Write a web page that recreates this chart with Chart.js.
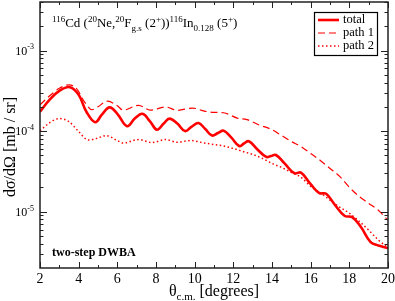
<!DOCTYPE html>
<html>
<head>
<meta charset="utf-8">
<script src="https://cdn.jsdelivr.net/npm/chart.js@4"></script>
<style>
  body { margin: 0; background: #fff; }
  #chart { display: block; }
</style>
</head>
<body>
<canvas id="chart" width="395" height="301"></canvas>
<script>
// angles (degrees) and cross sections (mb/sr)
const totalTheta = [2.0, 2.5, 3.0, 3.55, 4.0, 4.4, 4.85, 5.2, 5.6, 6.0, 6.5, 6.9, 7.3, 7.7, 8.05, 8.4, 8.7, 9.1, 9.5, 9.85, 10.2, 10.55, 10.9, 11.2, 11.5, 11.9, 12.3, 12.55, 12.8, 13.25, 13.7, 13.95, 14.2, 14.65, 15.15, 15.5, 16.0, 16.45, 16.8, 17.25, 17.75, 18.15, 18.6, 19.1, 19.5, 20.0];
const totalSigma = [1.74e-4, 2.45e-4, 3.16e-4, 3.51e-4, 2.82e-4, 1.74e-4, 1.29e-4, 1.60e-4, 1.97e-4, 1.64e-4, 1.15e-4, 1.43e-4, 1.64e-4, 1.31e-4, 1.04e-4, 1.24e-4, 1.43e-4, 1.24e-4, 1.0e-4, 1.14e-4, 1.26e-4, 1.06e-4, 8.8e-5, 9.45e-5, 1.01e-4, 8.31e-5, 6.53e-5, 7.01e-5, 7.48e-5, 5.91e-5, 4.78e-5, 4.91e-5, 5.05e-5, 3.97e-5, 3.0e-5, 3.05e-5, 2.19e-5, 1.70e-5, 1.67e-5, 1.22e-5, 8.9e-6, 8.55e-6, 6.44e-6, 4.2e-6, 3.8e-6, 3.54e-6];

const path1Theta = [2.0, 2.5, 3.0, 3.5, 3.9, 4.3, 4.7, 5.0, 5.5, 6.0, 6.3, 7.1, 7.7, 8.5, 9.1, 9.9, 10.5, 11.0, 11.5, 12.2, 12.7, 13.3, 14.0, 14.5, 15.0, 15.5, 16.0, 16.5, 17.0, 17.5, 18.0, 18.5, 19.0, 19.5, 20.0];
const path1Sigma = [2.12e-4, 2.74e-4, 3.40e-4, 3.75e-4, 3.35e-4, 2.31e-4, 1.84e-4, 2.01e-4, 2.35e-4, 2.06e-4, 1.82e-4, 2.09e-4, 1.82e-4, 1.99e-4, 1.81e-4, 1.93e-4, 1.77e-4, 1.71e-4, 1.69e-4, 1.45e-4, 1.39e-4, 1.20e-4, 1.04e-4, 8.8e-5, 7.42e-5, 6.44e-5, 5.28e-5, 4.32e-5, 3.44e-5, 2.74e-5, 2.01e-5, 1.55e-5, 1.27e-5, 1.04e-5, 7.85e-6];

const path2Theta = [2.0, 2.5, 3.0, 3.5, 4.0, 4.5, 5.0, 5.4, 6.0, 6.3, 7.1, 7.8, 8.5, 9.1, 9.8, 10.5, 11.0, 11.5, 12.0, 12.5, 13.0, 13.5, 14.0, 14.5, 15.0, 15.5, 16.0, 16.5, 17.0, 17.5, 18.0, 18.5, 19.0, 19.5, 20.0];
const path2Sigma = [1.01e-4, 1.27e-4, 1.43e-4, 1.31e-4, 9.86e-5, 7.74e-5, 8.2e-5, 8.8e-5, 7.63e-5, 7.11e-5, 7.85e-5, 7.21e-5, 7.85e-5, 7.27e-5, 7.63e-5, 7.11e-5, 6.81e-5, 6.53e-5, 6.08e-5, 5.58e-5, 5.13e-5, 4.58e-5, 3.97e-5, 3.54e-5, 3.07e-5, 2.67e-5, 2.06e-5, 1.72e-5, 1.39e-5, 1.14e-5, 9.58e-6, 7.63e-6, 5.91e-6, 4.45e-6, 3.59e-6];

const seriesNames = ["total", "path 1", "path 2"];
const xTickLabels = [2, 4, 6, 8, 10, 12, 14, 16, 18, 20];
const xMinorTicks = [3, 5, 7, 9, 11, 13, 15, 17, 19];
const yDecades = [-5, -4, -3];

const SERIF = "'Liberation Serif', 'Times New Roman', serif";
const RED = "#ff0000";

function pts(xs, ys) {
  return xs.map((x, i) => ({ x: x, y: ys[i] }));
}

// draws text with super/subscripts, parts = [[text, kind], ...]
function drawRich(ctx, parts, x, y, size, align) {
  const small = Math.round(size * 0.68);
  let w = 0;
  parts.forEach(p => {
    ctx.font = (p[1] ? small : size) + "px " + SERIF;
    w += ctx.measureText(p[0]).width;
  });
  let cx = align === "right" ? x - w : align === "center" ? x - w / 2 : x;
  ctx.textAlign = "left";
  ctx.textBaseline = "alphabetic";
  parts.forEach(p => {
    ctx.font = (p[1] ? small : size) + "px " + SERIF;
    let dy = 0;
    if (p[1] === "sup") dy = -size * 0.42;
    if (p[1] === "sub") dy = size * 0.28;
    ctx.fillText(p[0], cx, y + dy);
    cx += ctx.measureText(p[0]).width;
  });
}

const framePlugin = {
  id: "frame",
  afterDraw(chart) {
    const ctx = chart.ctx;
    const a = chart.chartArea;
    const xs = chart.scales.x;
    const ys = chart.scales.y;
    ctx.save();
    ctx.strokeStyle = "#222";
    ctx.fillStyle = "#000";
    ctx.lineWidth = 1.5;
    ctx.strokeRect(a.left, a.top, a.right - a.left, a.bottom - a.top);

    // ticks pointing inward on every side
    ctx.lineWidth = 1;
    ctx.beginPath();
    const xTick = (v, len) => {
      const px = Math.round(xs.getPixelForValue(v)) + 0.5;
      ctx.moveTo(px, a.bottom); ctx.lineTo(px, a.bottom - len);
      ctx.moveTo(px, a.top); ctx.lineTo(px, a.top + len);
    };
    xTickLabels.forEach(v => xTick(v, 6));
    xMinorTicks.forEach(v => xTick(v, 3));
    const yTick = (v, len) => {
      const py = Math.round(ys.getPixelForValue(v)) + 0.5;
      if (py < a.top || py > a.bottom) return;
      ctx.moveTo(a.left, py); ctx.lineTo(a.left + len, py);
      ctx.moveTo(a.right, py); ctx.lineTo(a.right - len, py);
    };
    for (let e = -6; e <= -3; e++) {
      for (let k = 1; k <= 9; k++) {
        const v = k * Math.pow(10, e);
        yTick(v, k === 1 ? 7 : 3.5);
      }
    }
    ctx.stroke();

    // tick labels
    ctx.textAlign = "center";
    ctx.textBaseline = "alphabetic";
    ctx.font = "14px " + SERIF;
    xTickLabels.forEach(v => {
      ctx.fillText(String(v), xs.getPixelForValue(v), a.bottom + 15);
    });
    yDecades.forEach(e => {
      const py = ys.getPixelForValue(Math.pow(10, e));
      drawRich(ctx, [["10", ""], [String(e), "sup"]], 34, py + 4, 12, "right");
    });

    // axis titles
    drawRich(ctx, [["\u03b8", ""], ["c.m.", "sub"], [" [degrees]", ""]], (a.left + a.right) / 2, a.bottom + 28, 16, "center");
    ctx.save();
    ctx.translate(15, 147);
    ctx.rotate(-Math.PI / 2);
    drawRich(ctx, [["d\u03c3/d\u03a9 [mb / sr]", ""]], 0, 0, 16, "center");
    ctx.restore();

    // reaction label
    drawRich(ctx, [
      ["116", "sup"], ["Cd (", ""], ["20", "sup"], ["Ne,", ""], ["20", "sup"], ["F", ""],
      ["g.s", "sub"], [" (2", ""], ["+", "sup"], ["))", ""], ["116", "sup"], ["In", ""],
      ["0.128", "sub"], [" (5", ""], ["+", "sup"], [")", ""]
    ], 52, 27, 13, "left");

    ctx.font = "bold 12px " + SERIF;
    ctx.textAlign = "left";
    ctx.fillText("two-step DWBA", 52, 256);

    // legend
    ctx.lineWidth = 1.2;
    ctx.strokeStyle = "#000";
    ctx.strokeRect(314.5, 12.5, 63, 43);
    const rows = [20, 33, 46];
    chart.data.datasets.forEach((ds, i) => {
      ctx.strokeStyle = ds.borderColor;
      ctx.lineWidth = ds.borderWidth;
      ctx.setLineDash(ds.borderDash || []);
      ctx.beginPath();
      ctx.moveTo(318, rows[i]);
      ctx.lineTo(339, rows[i]);
      ctx.stroke();
      ctx.setLineDash([]);
      ctx.fillStyle = "#000";
      ctx.font = "12.5px " + SERIF;
      ctx.textBaseline = "middle";
      ctx.fillText(seriesNames[i], 343, rows[i]);
    });
    ctx.restore();
  }
};

new Chart(document.getElementById("chart"), {
  type: "line",
  data: {
    datasets: [
      {
        label: seriesNames[0],
        data: pts(totalTheta, totalSigma),
        borderColor: RED,
        borderWidth: 2.6,
        tension: 0.4
      },
      {
        label: seriesNames[1],
        data: pts(path1Theta, path1Sigma),
        borderColor: RED,
        borderWidth: 1.2,
        borderDash: [7, 4],
        cubicInterpolationMode: "monotone"
      },
      {
        label: seriesNames[2],
        data: pts(path2Theta, path2Sigma),
        borderColor: RED,
        borderWidth: 1.5,
        borderDash: [1.5, 2.5],
        cubicInterpolationMode: "monotone"
      }
    ]
  },
  options: {
    responsive: false,
    devicePixelRatio: 1,
    animation: false,
    layout: { padding: { left: 40, right: 7, top: 2, bottom: 33 } },
    elements: {
      point: { radius: 0 },
      line: { fill: false }
    },
    scales: {
      x: { type: "linear", min: 2, max: 20, display: false },
      y: { type: "logarithmic", min: 2e-6, max: 4e-3, display: false }
    },
    plugins: {
      legend: { display: false },
      tooltip: { enabled: false }
    }
  },
  plugins: [framePlugin]
});
</script>
</body>
</html>
